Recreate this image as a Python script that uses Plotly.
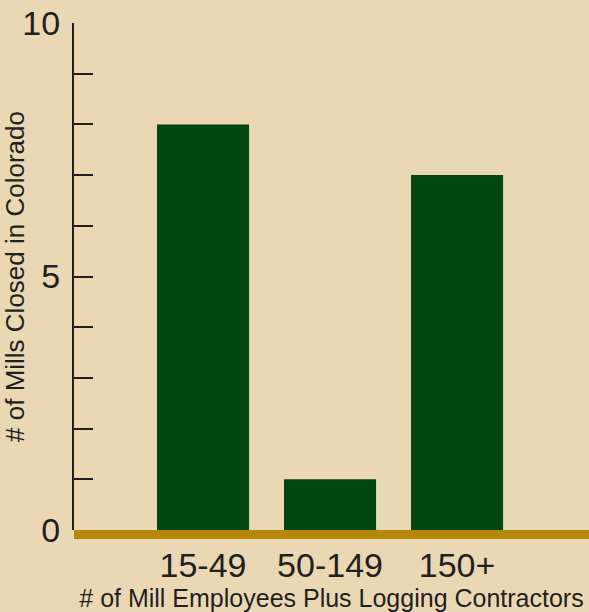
import plotly.graph_objects as go

# Mill closures in Colorado by mill size
size_classes = ["15-49", "50-149", "150+"]
mills_closed = [8, 1, 7]

y_tick_values = list(range(0, 11))
y_tick_labels = ["0", "", "", "", "", "5", "", "", "", "", "10"]

BG = "#EAD8B5"
GREEN = "#004711"
GOLD = "#B5880A"
INK = "#231F20"
FONT = "Liberation Sans, Arial, sans-serif"

fig = go.Figure(
    go.Bar(
        x=size_classes,
        y=mills_closed,
        width=0.725,
        marker=dict(color=GREEN, line=dict(width=0)),
        hoverinfo="x+y",
    )
)

# thick gold baseline under the bars
fig.add_shape(
    type="rect", xref="paper", yref="paper",
    x0=0, x1=1, y0=-9 / 507, y1=0,
    fillcolor=GOLD, line=dict(width=0), layer="above",
)

fig.update_layout(
    width=589, height=612,
    margin=dict(l=74, r=0, t=23, b=82),
    paper_bgcolor=BG, plot_bgcolor=BG,
    font=dict(family=FONT, color=INK),
    showlegend=False,
    bargap=0.275,
)

fig.update_xaxes(
    type="category",
    range=[-1.016, 3.039],
    automargin=False,
    showline=False, showgrid=False, zeroline=False,
    ticks="",
    tickfont=dict(size=34, color=INK),
    ticklabelstandoff=12,
    title=dict(
        text="# of Mill Employees Plus Logging Contractors",
        font=dict(size=25, color=INK),
        standoff=5,
    ),
)

fig.update_yaxes(
    range=[0, 10],
    automargin=False,
    tickmode="array", tickvals=y_tick_values, ticktext=y_tick_labels,
    ticks="inside", ticklen=19, tickwidth=1.5, tickcolor=INK,
    showline=True, linewidth=2, linecolor=INK,
    showgrid=False, zeroline=False,
    tickfont=dict(size=34, color=INK),
    ticklabelstandoff=5,
    title=dict(
        text="# of Mills Closed in Colorado",
        font=dict(size=26, color=INK),
        standoff=0,
    ),
)

fig.write_html("out.html")
